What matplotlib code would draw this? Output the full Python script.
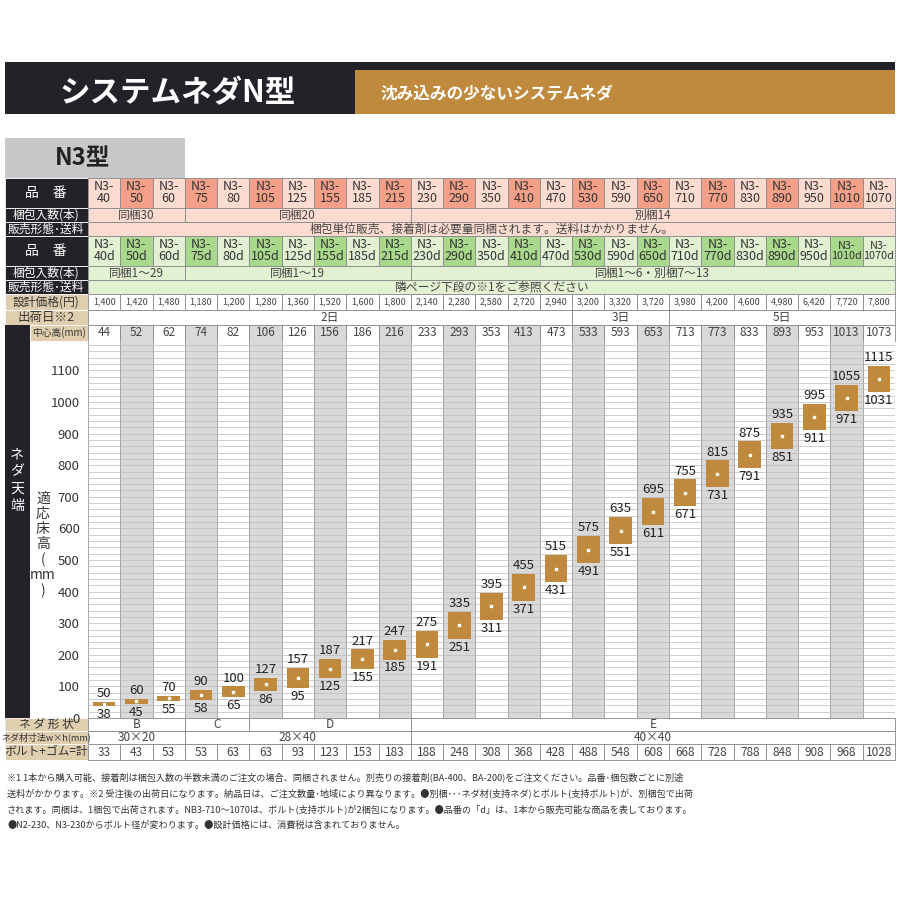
import matplotlib
matplotlib.use('Agg')
import matplotlib.pyplot as plt
from matplotlib.patches import Rectangle

plt.rcParams['font.family'] = ['Noto Sans CJK JP', 'DejaVu Sans']

names = ['40', '50', '60', '75', '80', '105', '125', '155', '185', '215', '230', '290', '350',
         '410', '470', '530', '590', '650', '710', '770', '830', '890', '950', '1010', '1070']
prices = ['1,400', '1,420', '1,480', '1,180', '1,200', '1,280', '1,360', '1,520', '1,600', '1,800',
          '2,140', '2,280', '2,580', '2,720', '2,940', '3,200', '3,320', '3,720', '3,980', '4,200',
          '4,600', '4,980', '6,420', '7,720', '7,800']
center = [44, 52, 62, 74, 82, 106, 126, 156, 186, 216, 233, 293, 353, 413, 473, 533, 593, 653,
          713, 773, 833, 893, 953, 1013, 1073]
high = [50, 60, 70, 90, 100, 127, 157, 187, 217, 247, 275, 335, 395, 455, 515, 575, 635, 695,
        755, 815, 875, 935, 995, 1055, 1115]
low = [38, 45, 55, 58, 65, 86, 95, 125, 155, 185, 191, 251, 311, 371, 431, 491, 551, 611,
       671, 731, 791, 851, 911, 971, 1031]
bolt = [33, 43, 53, 53, 63, 63, 93, 123, 153, 183, 188, 248, 308, 368, 428, 488, 548, 608,
        668, 728, 788, 848, 908, 968, 1028]
pack1 = [(0, 2, '同梱30'), (3, 9, '同梱20'), (10, 24, '別梱14')]
pack2 = [(0, 2, '同梱1～29'), (3, 9, '同梱1～19'), (10, 24, '同梱1～6・別梱7～13')]
ship = [(0, 14, '2日'), (15, 17, '3日'), (18, 24, '5日')]
shape = [(0, 2, 'B'), (3, 4, 'C'), (5, 9, 'D'), (10, 24, 'E')]
size = [(0, 2, '30×20'), (3, 9, '28×40'), (10, 24, '40×40')]

DARK = '#222228'
GOLD = '#c08a3e'
SAL, PINK = '#f4a088', '#fcdcd0'
GRN, LGRN = '#a9d98c', '#e2f1d2'
TAN = '#e0cfae'

fig = plt.figure(figsize=(9, 9), dpi=100)
ax = fig.add_axes([0, 0, 1, 1])
ax.set_xlim(0, 900)
ax.set_ylim(900, 0)
ax.axis('off')

X0, CW = 88, 32.28
def cx(i):
    return X0 + CW * i

def box(x, y, w, h, fc, ec='none', lw=0.6):
    ax.add_patch(Rectangle((x, y), w, h, fc=fc, ec=ec, lw=lw))

# header
box(5, 62, 890, 52, DARK)
box(355, 70, 540, 44, GOLD)
ax.text(178, 93, 'システムネダN型', color='white', fontsize=22, fontweight='bold', ha='center', va='center')
ax.text(380, 93, '沈み込みの少ないシステムネダ', color='white', fontsize=12, fontweight='bold', va='center')
box(5, 138, 180, 40, '#c8c8c8')
ax.text(55, 158, 'N3型', fontsize=17, fontweight='bold', va='center', color='#222')

def label_cell(y, h, txt, fc=DARK, tc='white', fs=8.5):
    box(5, y, 83, h, fc, ec='white')
    ax.text(46, y + h / 2, txt, color=tc, fontsize=fs, ha='center', va='center')

def span_row(y, h, spans, fc, fs=8.5):
    for a, b, t in spans:
        box(cx(a), y, CW * (b - a + 1), h, fc, ec='#888')
        ax.text(cx(a) + CW * (b - a + 1) / 2, y + h / 2, t, fontsize=fs, ha='center', va='center', color='#444')

# product rows
for y, suf, c1, c2 in [(178, '', PINK, SAL), (236, 'd', LGRN, GRN)]:
    label_cell(y, 30, '品　番', fs=10)
    for i, n in enumerate(names):
        box(cx(i), y, CW, 30, c2 if i % 2 else c1, ec='#888')
        ax.text(cx(i) + CW / 2, y + 15, 'N3-\n' + n + suf, fontsize=9 if len(n + suf) < 5 else 7.8,
                ha='center', va='center', linespacing=0.9, color='#333')
label_cell(208, 14, '梱包入数(本)')
span_row(208, 14, pack1, PINK)
label_cell(222, 14, '販売形態･送料')
span_row(222, 14, [(0, 24, '梱包単位販売、接着剤は必要量同梱されます。送料はかかりません。')], PINK)
label_cell(266, 14, '梱包入数(本)')
span_row(266, 14, pack2, LGRN)
label_cell(280, 14, '販売形態･送料')
span_row(280, 14, [(0, 24, '隣ページ下段の※1をご参照ください')], LGRN)
label_cell(294, 16, '設計価格(円)', fc=TAN, tc='#333')
for i, p in enumerate(prices):
    box(cx(i), 294, CW, 16, 'white', ec='#888')
    ax.text(cx(i) + CW / 2, 302, p, fontsize=6.5, ha='center', va='center', color='#444')
label_cell(310, 15, '出荷日※2', fc=TAN, tc='#333', fs=9)
span_row(310, 15, ship, 'white')

# chart region
box(5, 325, 25, 419, DARK)
box(30, 325, 58, 16, TAN, ec='white')
ax.text(59, 333, '中心高(mm)', fontsize=7, ha='center', va='center', color='#333')
for i, c in enumerate(center):
    box(cx(i), 325, CW, 16, '#d9d9d9' if i % 2 else 'white', ec='#888')
    ax.text(cx(i) + CW / 2, 333, str(c), fontsize=8.5, ha='center', va='center', color='#444')
ax.text(17, 480, 'ネ\nダ\n天\n端', color='white', fontsize=10, ha='center', va='center', linespacing=1.3)
ax.text(43, 545, '適\n応\n床\n高\n(\nmm\n)', fontsize=10, ha='center', va='center', linespacing=1.1, color='#333')

cax = fig.add_axes([X0 / 900, 1 - 718 / 900, CW * 25 / 900, (718 - 341) / 900])
cax.set_xlim(0, 25)
cax.set_ylim(0, 1193)
for i in range(25):
    cax.axvspan(i, i + 1, color='#d9d9d9' if i % 2 else 'white', lw=0, zorder=0)
    cax.axvline(i, color='#999', lw=0.6, zorder=1)
for g in range(0, 1193, 20):
    cax.axhline(g, color='#bbbbbb', lw=0.5, zorder=1)
for i in range(25):
    cax.bar(i + 0.5, high[i] - low[i], bottom=low[i], width=0.7, color=GOLD, zorder=3)
    cax.plot(i + 0.5, (high[i] + low[i]) / 2, 's', ms=1.5, color='white', zorder=4)
    cax.text(i + 0.5, high[i] + 6, str(high[i]), fontsize=9.5, ha='center', va='bottom', color='#222', zorder=5)
    cax.text(i + 0.5, low[i] - 6, str(low[i]), fontsize=9.5, ha='center', va='top', color='#222',
             clip_on=False, zorder=5)
cax.set_yticks(range(0, 1101, 100))
cax.tick_params(axis='y', length=0, labelsize=9.5, labelcolor='#333', pad=6)
cax.set_xticks([])
for s in cax.spines.values():
    s.set_visible(False)

# bottom rows
label_cell(718, 13, 'ネ ダ 形 状', fc=TAN, tc='#333')
span_row(718, 13, shape, 'white')
label_cell(731, 13, 'ネダ材寸法w×h(mm)', fc=TAN, tc='#333', fs=6.5)
span_row(731, 13, size, 'white')
label_cell(744, 16, 'ボルト+ゴム=計', fc=TAN, tc='#333')
for i, b in enumerate(bolt):
    box(cx(i), 744, CW, 16, 'white', ec='#888')
    ax.text(cx(i) + CW / 2, 752, str(b), fontsize=8.5, ha='center', va='center', color='#444')

notes = [
    '※1 1本から購入可能、接着剤は梱包入数の半数未満のご注文の場合、同梱されません。別売りの接着剤(BA-400、BA-200)をご注文ください。品番･梱包数ごとに別途',
    '送料がかかります。※2 受注後の出荷日になります。納品日は、ご注文数量･地域により異なります。●別梱･･･ネダ材(支持ネダ)とボルト(支持ボルト)が、別梱包で出荷',
    'されます。同梱は、1梱包で出荷されます。NB3-710～1070は、ボルト(支持ボルト)が2梱包になります。●品番の「d」は、1本から販売可能な商品を表しております。',
    '●N2-230、N3-230からボルト径が変わります。●設計価格には、消費税は含まれておりません。',
]
for k, t in enumerate(notes):
    ax.text(7, 777 + 16 * k, t, fontsize=6.6, va='center', color='#333')

fig.savefig('out.png', dpi=100)
